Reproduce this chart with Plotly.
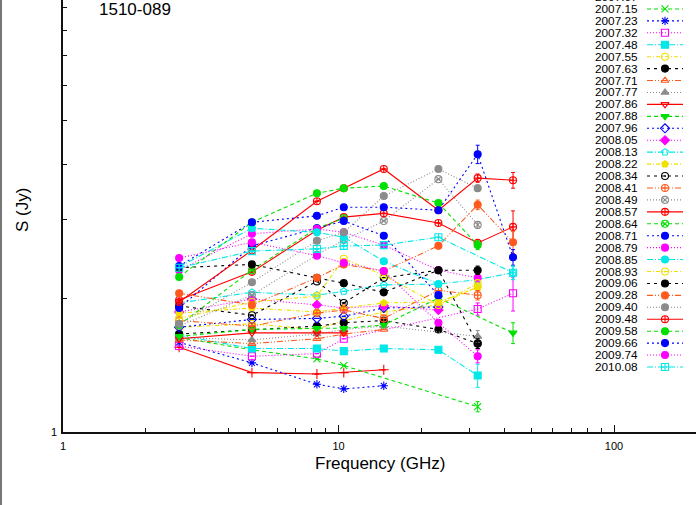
import plotly.graph_objects as go

N = None
freqs = [2.64, 4.85, 8.35, 10.45, 14.6, 23.05, 32.0, 43.0]
epochs = ["2007.07", "2007.15", "2007.23", "2007.32", "2007.48", "2007.55", "2007.63", "2007.71",
          "2007.77", "2007.86", "2007.88", "2007.96", "2008.05", "2008.13", "2008.22", "2008.34",
          "2008.41", "2008.49", "2008.57", "2008.64", "2008.71", "2008.79", "2008.85", "2008.93",
          "2009.06", "2009.28", "2009.40", "2009.48", "2009.58", "2009.66", "2009.74", "2010.08"]

s_2007_07 = [1.55, 1.36, 1.35, 1.36, 1.38, N, N, N]
s_2007_15 = [1.63, 1.53, 1.46, 1.41, N, N, 1.14, N]
s_2007_23 = [1.59, 1.43, 1.28, 1.25, 1.27, N, N, N]
s_2007_32 = [1.56, 1.48, 1.50, 1.62, N, N, 1.89, 2.05]
s_2007_48 = [1.65, 1.54, 1.54, 1.52, 1.54, 1.53, 1.34, N]
s_2007_55 = [1.72, 1.75, 1.70, 1.78, 1.86, 1.93, 2.12, N]
s_2007_63 = [1.66, 1.70, 1.73, 1.76, 1.78, 1.70, 1.58, N]
s_2007_71 = [1.61, 1.58, 1.62, 1.66, 1.70, N, N, N]
s_2007_77 = [1.63, 1.61, 1.66, 1.70, 1.73, N, 1.64, N]
s_2007_86 = [1.62, 1.67, 1.67, 1.67, N, N, N, N]
s_2007_88 = [1.64, 1.70, 1.71, 1.71, 1.74, 2.00, N, 1.67]
s_2007_96 = [1.72, 1.79, 1.80, 1.82, 1.90, 1.91, N, N]
s_2008_05 = [1.86, 1.99, 1.93, 1.90, 1.92, 1.88, N, N]
s_2008_13 = [1.95, 2.06, 2.03, 2.07, 2.14, 2.15, 2.20, 2.28]
s_2008_22 = [1.85, 1.90, 1.86, 1.90, 1.95, 1.96, 2.11, N]
s_2008_34 = [1.92, 1.83, 2.18, 1.95, 2.22, 2.31, 1.58, N]
s_2008_41 = [1.78, 1.73, 1.85, 1.88, 1.80, 2.08, 2.03, N]
s_2008_49 = [1.73, 2.03, 2.50, 2.70, 2.98, 3.70, 2.92, N]
s_2008_57 = [1.98, 2.29, 2.84, 3.04, 3.10, 2.95, 2.66, 2.89]
s_2008_64 = [1.74, 2.31, 2.87, 3.02, N, N, N, N]
s_2008_71 = [1.90, 2.62, 2.87, 2.98, 2.76, 2.03, N, N]
s_2008_79 = [2.31, 2.79, 2.86, 2.81, 2.63, 2.31, 2.22, N]
s_2008_85 = [2.35, 2.87, 2.81, 2.74, 2.42, 2.15, N, N]
s_2008_93 = [1.80, 1.96, 2.02, 2.45, 2.25, 1.93, 2.16, N]
s_2009_06 = [2.34, 2.38, 2.22, 2.16, 2.06, 2.31, 2.31, N]
s_2009_28 = [2.05, 1.93, 2.22, 2.38, 2.30, 2.62, 3.24, 2.67]
s_2009_40 = [1.75, 2.17, 2.69, 2.81, 3.39, 3.90, 3.53, N]
s_2009_48 = [1.96, 2.56, 3.30, 3.53, 3.90, 3.15, 3.72, 3.68]
s_2009_58 = [2.23, 2.96, 3.44, 3.53, 3.57, 3.27, 2.63, N]
s_2009_66 = [2.36, 2.96, 3.06, 3.20, 3.20, 3.15, 4.21, 2.47]
s_2009_74 = [2.46, 2.67, 2.49, 2.40, 2.30, 1.76, 1.48, N]
s_2010_08 = [2.34, 2.55, 2.58, 2.62, 2.63, 2.74, N, 2.28]

# flux errors at 32 and 43 GHz (0 = not drawn)
err_32 = [0, 0.03, 0, 0.06, 0.08, 0, 0.04, 0, 0.05, 0, 0, 0, 0, 0.05, 0, 0.04,
          0.05, 0.05, 0.05, 0, 0, 0.05, 0, 0, 0.05, 0.08, 0.06, 0.08, 0.06, 0.2, 0.05, 0]
err_43 = [0, 0, 0, 0.18, 0, 0, 0, 0, 0, 0, 0.09, 0, 0, 0.08, 0, 0,
          0, 0, 0.25, 0, 0, 0, 0, 0, 0, 0.15, 0, 0.15, 0, 0.1, 0, 0.08]

series = [s_2007_07, s_2007_15, s_2007_23, s_2007_32, s_2007_48, s_2007_55, s_2007_63, s_2007_71,
          s_2007_77, s_2007_86, s_2007_88, s_2007_96, s_2008_05, s_2008_13, s_2008_22, s_2008_34,
          s_2008_41, s_2008_49, s_2008_57, s_2008_64, s_2008_71, s_2008_79, s_2008_85, s_2008_93,
          s_2009_06, s_2009_28, s_2009_40, s_2009_48, s_2009_58, s_2009_66, s_2009_74, s_2010_08]

colors = ["#ff0000", "#00e000", "#0000ff", "#ff00ff", "#00e8e8", "#f0e000", "#000000",
          "#ff5a1e", "#8c8c8c"]
dashes = ["solid", "4px,3px", "2px,3px", "1px,2px", "6px,2px,1px,2px", "4px,2px,1px,2px",
          "3px,4px", "6px,2px,1px,2px,1px,2px", "1px,2px"]
symbols = ["cross-thin-open", "x-thin-open", "asterisk-open", "square-open", "square",
           "circle-open", "circle", "triangle-up-open", "triangle-up", "triangle-down-open",
           "triangle-down", "diamond-open", "diamond", "pentagon-open", "pentagon",
           "circle-open-dot", "circle-cross-open", "circle-x-open", "circle-cross-open",
           "circle-x-open", "circle-cross", "circle-x", "circle-cross", "circle-open-dot",
           "circle-x", "circle-cross", "circle", "circle-cross-open", "circle", "circle",
           "circle", "square-cross-open"]

FONT = "Liberation Sans, Arial, Helvetica, sans-serif"
W, H = 696, 505
L, B = 63, 73  # plot area: x 63..696, y 0..432
PW, PH = W - L, H - B

fig = go.Figure()

for i, (ep, vals) in enumerate(zip(epochs, series)):
    col = colors[i % 9]
    dash = dashes[i % 9]
    sym = symbols[i]
    errs = [0] * 6 + [err_32[i], err_43[i]]
    errs = [e if v is not None else 0 for e, v in zip(errs, vals)]
    fig.add_trace(go.Scatter(
        x=freqs, y=vals, mode="lines+markers", connectgaps=True, name=ep,
        line=dict(color=col, width=1.1, dash=dash),
        marker=dict(symbol=sym, size=7, color=col, line=dict(color=col, width=1.1)),
        error_y=dict(type="data", array=errs, visible=True, color=col, thickness=1, width=2),
        showlegend=False, xaxis="x", yaxis="y"))

# manual gnuplot-style key (text left, sample right), placed in pixel space
row0, dy = -3.0, 11.935
for i, ep in enumerate(epochs):
    yrow = row0 + dy * i
    col = colors[i % 9]
    fig.add_trace(go.Scatter(
        x=[647, 665, 683], y=[yrow] * 3, mode="lines+markers", cliponaxis=False,
        line=dict(color=col, width=1.1, dash=dashes[i % 9]),
        marker=dict(symbol=symbols[i], size=7, color=col, opacity=[0, 1, 0],
                    line=dict(color=col, width=1.1)),
        showlegend=False, hoverinfo="skip", xaxis="x2", yaxis="y2"))
    fig.add_annotation(x=(640 - L) / PW, y=(PH - yrow) / PH, xref="paper", yref="paper",
                       text=ep, showarrow=False, xanchor="right", yanchor="middle",
                       font=dict(family=FONT, size=11.8, color="black"))

xr_hi = (W - L) / 275.5
yr_hi = PH / 445.0

fig.update_layout(
    width=W, height=H, autosize=False,
    margin=dict(l=L, r=0, t=0, b=B, pad=0),
    paper_bgcolor="white", plot_bgcolor="rgba(0,0,0,0)",
    font=dict(family=FONT, color="black"),
    xaxis=dict(type="log", range=[0, xr_hi], domain=[0, 1],
               showline=True, linecolor="#111", linewidth=1.5, mirror=False,
               ticks="inside", ticklen=7, tickwidth=1, tickcolor="#111",
               tickvals=[1, 10, 100], ticktext=["1", "10", "100"],
               tickfont=dict(size=11, family=FONT), ticklabelstandoff=3,
               minor=dict(tickvals=[2, 3, 4, 5, 6, 7, 8, 9, 20, 30, 40, 50, 60, 70, 80, 90],
                          ticks="inside", ticklen=4, tickcolor="#111", showgrid=False),
               showgrid=False, zeroline=False),
    yaxis=dict(type="log", range=[0, yr_hi], domain=[0, 1],
               showline=True, linecolor="#111", linewidth=1.5, mirror=False,
               ticks="inside", ticklen=7, tickwidth=1, tickcolor="#111",
               tickvals=[1, 10], ticktext=["1", "10"],
               tickfont=dict(size=11, family=FONT), ticklabelstandoff=2,
               minor=dict(tickvals=[2, 3, 4, 5, 6, 7, 8, 9],
                          ticks="inside", ticklen=4, tickcolor="#111", showgrid=False),
               showgrid=False, zeroline=False),
    xaxis2=dict(range=[L, W], overlaying="x", visible=False, fixedrange=True),
    yaxis2=dict(range=[PH, 0], overlaying="y", visible=False, fixedrange=True),
)

# title and axis labels
fig.add_annotation(x=(97 - L) / PW, y=1 - 9 / PH, xref="paper", yref="paper",
                   text="1510-089", showarrow=False, xanchor="left", yanchor="middle",
                   font=dict(family=FONT, size=17, color="black"))
fig.add_annotation(x=(380 - L) / PW, y=(PH - 463) / PH, xref="paper", yref="paper",
                   text="Frequency (GHz)", showarrow=False, xanchor="center", yanchor="middle",
                   font=dict(family=FONT, size=17, color="black"))
fig.add_annotation(x=(22 - L) / PW, y=(PH - 210) / PH, xref="paper", yref="paper",
                   text="S (Jy)", showarrow=False, textangle=-90, xanchor="center",
                   yanchor="middle", font=dict(family=FONT, size=17, color="black"))

# page border line at the far left
fig.add_shape(type="line", xref="paper", yref="paper",
              x0=(1 - L) / PW, x1=(1 - L) / PW, y0=1.0, y1=(PH - H) / PH,
              line=dict(color="#777", width=2))

fig.write_html("out.html")
